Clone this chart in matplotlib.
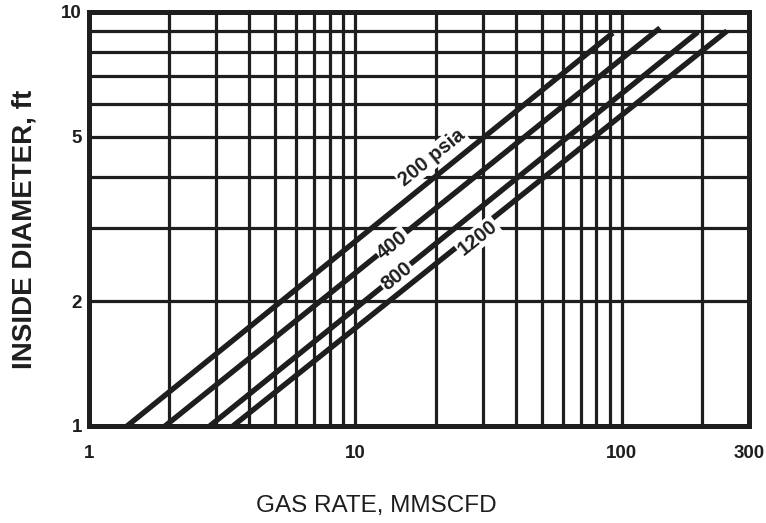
import numpy as np
import matplotlib.pyplot as plt
from matplotlib.ticker import LogLocator, NullFormatter, FixedLocator, FixedFormatter

# separator pressure lines (straight on log-log), read at both ends
pressures = [200, 400, 800, 1200]
rate_start = [1.39, 1.93, 2.84, 3.47]    # MMSCFD at D = 1 ft
diam_start = [1.0, 1.0, 1.0, 1.0]
rate_end = [92.5, 139, 193, 248]
diam_end = [8.9, 9.15, 8.95, 9.0]

label_text = ["200 psia", "400", "800", "1200"]
label_x = [19.4, 13.8, 14.3, 28.8]
label_y = [4.45, 2.74, 2.30, 2.85]

x_ticks = [1, 10, 100, 300]
y_ticks = [1, 2, 5, 10]

ink = "#1e1e1e"
plt.rcParams["font.family"] = ["Liberation Sans", "DejaVu Sans"]

fig = plt.figure(figsize=(7.66, 5.23), dpi=100)
ax = fig.add_axes([89/766, 1-426/523, 660/766, 414/523])
ax.set_xscale("log")
ax.set_yscale("log")
ax.set_xlim(1, 300)
ax.set_ylim(1, 10)

ax.xaxis.set_major_locator(FixedLocator(x_ticks))
ax.xaxis.set_major_formatter(FixedFormatter([str(v) for v in x_ticks]))
ax.yaxis.set_major_locator(FixedLocator(y_ticks))
ax.yaxis.set_major_formatter(FixedFormatter([str(v) for v in y_ticks]))
ax.xaxis.set_minor_locator(LogLocator(base=10, subs=range(2, 10)))
ax.yaxis.set_minor_locator(LogLocator(base=10, subs=range(2, 10)))
ax.xaxis.set_minor_formatter(NullFormatter())
ax.yaxis.set_minor_formatter(NullFormatter())
ax.tick_params(which="both", length=0)
ax.tick_params(axis="x", pad=14, labelsize=13.5, colors=ink)
ax.tick_params(axis="y", pad=5, labelsize=13.5, colors=ink)
for t in ax.get_yticklabels() + ax.get_xticklabels():
    t.set_fontweight("bold")

ax.grid(which="both", color=ink, linewidth=2.3)
ax.set_axisbelow(True)
for s in ax.spines.values():
    s.set_linewidth(3.6)
    s.set_color(ink)

for i in range(len(pressures)):
    ax.plot([rate_start[i], rate_end[i]], [diam_start[i], diam_end[i]],
            color=ink, lw=3.9, solid_capstyle="butt", zorder=3)

fig.canvas.draw()
for i in range(len(pressures)):
    p0 = ax.transData.transform((rate_start[i], diam_start[i]))
    p1 = ax.transData.transform((rate_end[i], diam_end[i]))
    ang = np.degrees(np.arctan2(p1[1]-p0[1], p1[0]-p0[0]))
    ax.text(label_x[i], label_y[i], label_text[i], rotation=ang,
            rotation_mode="anchor", ha="center", va="center",
            fontsize=14.5, fontweight="bold", color=ink, zorder=5,
            bbox=dict(facecolor="white", edgecolor="none", pad=1.0))

ax.set_xlabel("GAS RATE, MMSCFD", fontsize=17.5, color=ink)
ax.xaxis.set_label_coords(0.436, -0.167)
ax.set_ylabel("INSIDE DIAMETER, ft", fontsize=20, fontweight="bold", color=ink)
ax.yaxis.set_label_coords(-0.078, 0.476)

fig.savefig("out.png", dpi=100)
